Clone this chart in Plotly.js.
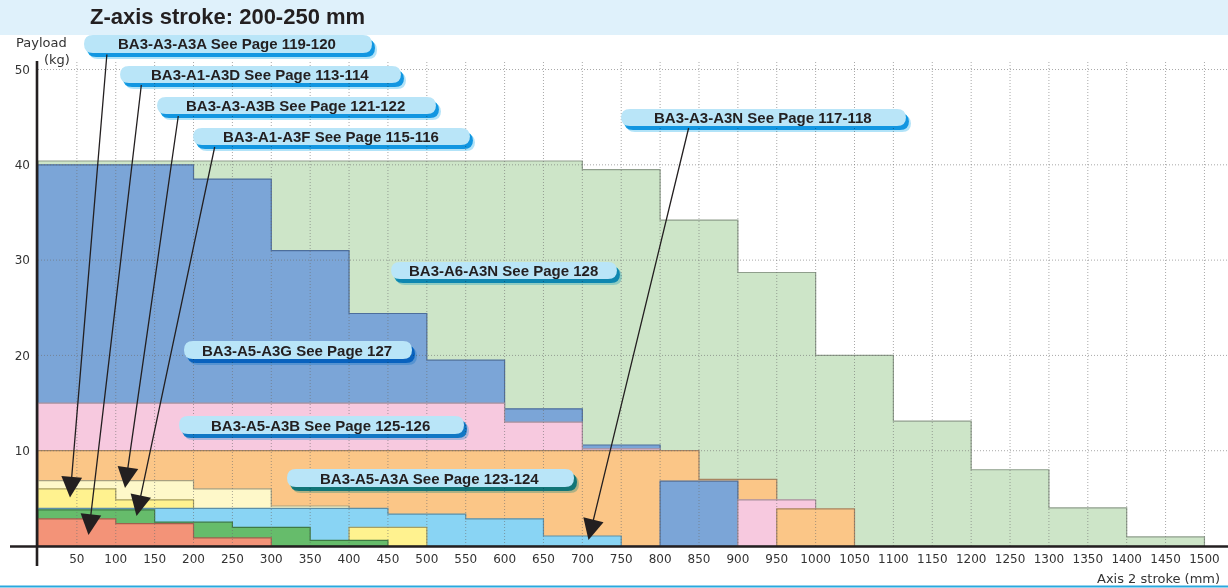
<!DOCTYPE html>
<html><head><meta charset="utf-8">
<script src="https://cdn.plot.ly/plotly-3.0.1.min.js"></script>
<style>html,body{margin:0;padding:0;background:#fff}#chart{width:1228px;height:588px}</style>
</head><body><div id="chart"></div>
<script>
// ---------------- data ----------------
const xTickVals = [50,100,150,200,250,300,350,400,450,500,550,600,650,700,750,800,850,900,950,1000,1050,1100,1150,1200,1250,1300,1350,1400,1450,1500];
const xTickText = ['50','100','150','200','250','300','350','400','450','500','550','600','650','700','750','800','850','900','950','1000','1050','1100','1150','1200','1250','1300','1350','1400','1450','1500'];
const yTickVals = [10,20,30,40,50];
const yTickText = ['10','20','30','40','50'];

// step envelopes: stroke boundaries (mm) and payload level (kg) between them
const a6a3nStroke  = [0,700,800,900,1000,1100,1200,1300,1400,1500];
const a6a3nPayload = [40.4,39.5,34.2,28.7,20.0,13.1,8.0,4.0,0.95];
const a5a3gStroke  = [0,200,300,400,500,600,700,800];
const a5a3gPayload = [40.0,38.5,31.0,24.4,19.5,14.4,10.6];
const a5a3gStroke2  = [800,900];
const a5a3gPayload2 = [6.8];
const a5a3bStroke  = [0,600,700,800];
const a5a3bPayload = [15.0,13.0,10.2];
const a5a3bStroke2  = [900,1000];
const a5a3bPayload2 = [4.85];
const a5a3aStroke  = [0,850,950];
const a5a3aPayload = [10.0,7.0];
const a5a3aStroke2  = [950,1050];
const a5a3aPayload2 = [3.9];
const a3a3bStroke  = [0,200,300,400];
const a3a3bPayload = [6.85,6.0,4.2];
const a3a3aStroke  = [0,100,200];
const a3a3aPayload = [6.0,4.85];
const a3a3aStroke2  = [400,500];
const a3a3aPayload2 = [1.95];
const a3a3nStroke  = [0,450,550,650,750];
const a3a3nPayload = [3.95,3.35,2.85,1.05];
const a1a3fStroke  = [0,150,250,350,450];
const a1a3fPayload = [3.8,2.5,1.95,0.6];
const a1a3dStroke  = [0,100,200,300];
const a1a3dPayload = [2.85,2.35,0.85];

const seriesLabels = [
  'BA3-A3-A3A See Page 119-120',
  'BA3-A1-A3D See Page 113-114',
  'BA3-A3-A3B See Page 121-122',
  'BA3-A1-A3F See Page 115-116',
  'BA3-A3-A3N See Page 117-118',
  'BA3-A6-A3N See Page 128',
  'BA3-A5-A3G See Page 127',
  'BA3-A5-A3B See Page 125-126',
  'BA3-A5-A3A See Page 123-124'
];
const chartTitle = 'Z-axis stroke: 200-250 mm';
const yTitle1 = 'Payload', yTitle2 = '(kg)';
const xTitle = 'Axis 2 stroke (mm)';

// ---------------- layout geometry ----------------
const W=1228, H=588, ML=38, MR=8, MT=60, MB=42;
const PW=W-ML-MR, PH=H-MT-MB;
const XMAX=1520, YMAX=51;
const pxX = px => (px-ML)/PW;          // pixel -> paper x
const pxY = py => (H-MB-py)/PH;        // pixel -> paper y
const dX = px => (px-ML)/PW*XMAX;      // pixel -> data x
const dY = py => (H-MB-py)/PH*YMAX;    // pixel -> data y

function stepPolygon(stroke, payload){
  const xs=[stroke[0]], ys=[0];
  for(let i=0;i<payload.length;i++){ xs.push(stroke[i], stroke[i+1]); ys.push(payload[i], payload[i]); }
  xs.push(stroke[stroke.length-1]); ys.push(0);
  xs.push(stroke[0]); ys.push(0);
  return {xs, ys};
}
function area(stroke, payload, fill, edge){
  const p = stepPolygon(stroke, payload);
  return {x:p.xs, y:p.ys, type:'scatter', mode:'lines', fill:'toself', fillcolor:fill,
          line:{color:edge, width:1.2}, hoverinfo:'skip', showlegend:false};
}
const C = {
  green:'#cde5c8', blue:'#7ba5d7', pink:'#f7c9df', orange:'#fbc687',
  lyellow:'#fef8c9', yellow:'#fff28f', cyan:'#89d4f4', dgreen:'#66bc6b', red:'#f39378'
};
const traces = [
  area(a6a3nStroke, a6a3nPayload, C.green, '#8f9e8c'),
  area(a5a3gStroke, a5a3gPayload, C.blue, '#4d6e9c'),
  area(a5a3bStroke, a5a3bPayload, C.pink, '#a8909c'),
  area(a5a3aStroke, a5a3aPayload, C.orange, '#a88460'),
  area(a5a3gStroke2, a5a3gPayload2, C.blue, '#4d6e9c'),
  area(a5a3bStroke2, a5a3bPayload2, C.pink, '#a8909c'),
  area(a5a3aStroke2, a5a3aPayload2, C.orange, '#a88460'),
  area(a3a3bStroke, a3a3bPayload, C.lyellow, '#a8a080'),
  area(a3a3aStroke, a3a3aPayload, C.yellow, '#a89f60'),
  area(a3a3nStroke, a3a3nPayload, C.cyan, '#5c8fa8'),
  area(a3a3aStroke2, a3a3aPayload2, C.yellow, '#a89f60'),
  area(a1a3fStroke, a1a3fPayload, C.dgreen, '#3f7a44'),
  area(a1a3dStroke, a1a3dPayload, C.red, '#a0604e')
];

// ---------------- callout boxes (pixel layout) ----------------
const boxes = [
  {x0:84,  x1:372, y0:35,  y1:53,  tip:[70,497.5], tail:[107,53]},
  {x0:120, x1:401, y0:66,  y1:83,  tip:[88.5,535], tail:[141.5,83.5]},
  {x0:157, x1:436, y0:97,  y1:114, tip:[125,488],  tail:[178.5,114.5]},
  {x0:193, x1:470, y0:128, y1:145, tip:[136.5,516],tail:[215,145.5]},
  {x0:621, x1:906, y0:109, y1:126, tip:[588.5,540],tail:[689,126.5]},
  {x0:391, x1:617, y0:262, y1:279},
  {x0:184, x1:412, y0:341, y1:359},
  {x0:179, x1:464, y0:416, y1:434},
  {x0:287, x1:574, y0:469, y1:487}
];
function roundRect(x0,y0,x1,y1,r){
  const X=pxX, Y=pxY;
  return `M ${X(x0+r)},${Y(y0)} L ${X(x1-r)},${Y(y0)} Q ${X(x1)},${Y(y0)} ${X(x1)},${Y(y0+r)} `+
         `L ${X(x1)},${Y(y1-r)} Q ${X(x1)},${Y(y1)} ${X(x1-r)},${Y(y1)} L ${X(x0+r)},${Y(y1)} `+
         `Q ${X(x0)},${Y(y1)} ${X(x0)},${Y(y1-r)} L ${X(x0)},${Y(y0+r)} Q ${X(x0)},${Y(y0)} ${X(x0+r)},${Y(y0)} Z`;
}

const shapes = [];
// title band
shapes.push({type:'rect', xref:'paper', yref:'paper', x0:pxX(0), x1:pxX(W), y0:pxY(35), y1:pxY(0),
  fillcolor:'#dff1fb', line:{width:0}, layer:'below'});
// bottom rule
shapes.push({type:'line', xref:'paper', yref:'paper', x0:pxX(0), x1:pxX(W), y0:pxY(586.5), y1:pxY(586.5),
  line:{color:'#2aa8de', width:2}, layer:'above'});
// grid (fine dotted, drawn over areas)
const gridLine = {color:'rgba(110,110,110,0.6)', width:1, dash:'1px,2px'};
xTickVals.forEach(v => shapes.push({type:'line', xref:'x', yref:'y', x0:v, x1:v, y0:0, y1:dY(62), line:gridLine, layer:'above'}));
yTickVals.forEach(v => shapes.push({type:'line', xref:'paper', yref:'y', x0:0, x1:pxX(W), y0:v, y1:v, line:gridLine, layer:'above'}));
// axis lines
shapes.push({type:'line', xref:'paper', yref:'paper', x0:pxX(10), x1:pxX(W), y0:pxY(546.5), y1:pxY(546.5),
  line:{color:'#231f20', width:2.6}, layer:'above'});
shapes.push({type:'line', xref:'paper', yref:'paper', x0:pxX(37), x1:pxX(37), y0:pxY(566), y1:pxY(61),
  line:{color:'#231f20', width:2.6}, layer:'above'});
// callout boxes with shadow
const SHADOW = 'rgb(0, 160, 230)';
boxes.forEach(b => {
  shapes.push({type:'path', xref:'paper', yref:'paper', path:roundRect(b.x0+5,b.y0+6,b.x1+5,b.y1+6,9),
    fillcolor:SHADOW, opacity:0.3, line:{width:0}, layer:'above'});
  shapes.push({type:'path', xref:'paper', yref:'paper', path:roundRect(b.x0+3,b.y0+4,b.x1+3,b.y1+4,9),
    fillcolor:SHADOW, opacity:0.9, line:{width:0}, layer:'above'});
  shapes.push({type:'path', xref:'paper', yref:'paper', path:roundRect(b.x0,b.y0,b.x1,b.y1,9),
    fillcolor:'#b9e5f8', line:{width:0}, layer:'above'});
});

const annotations = [];
annotations.push({xref:'paper', yref:'paper', x:pxX(88), y:pxY(17), xanchor:'left', yanchor:'middle',
  text:'<b>'+chartTitle+'</b>', showarrow:false,
  font:{family:'Liberation Sans, Arial, sans-serif', size:22, color:'#231f20'}});
annotations.push({xref:'paper', yref:'paper', x:pxX(68), y:pxY(50.5), xanchor:'right', yanchor:'bottom', borderpad:0,
  text:yTitle1, showarrow:false, font:{family:'DejaVu Sans, sans-serif', size:13, color:'#333'}});
annotations.push({xref:'paper', yref:'paper', x:pxX(71), y:pxY(50.5), xanchor:'right', yanchor:'top', borderpad:0,
  text:yTitle2, showarrow:false, font:{family:'DejaVu Sans, sans-serif', size:13, color:'#333'}});
annotations.push({xref:'paper', yref:'paper', x:pxX(1222), y:pxY(578), xanchor:'right', yanchor:'middle',
  text:xTitle, showarrow:false, font:{family:'DejaVu Sans, sans-serif', size:13, color:'#333'}});
boxes.forEach((b,i) => {
  annotations.push({xref:'paper', yref:'paper', x:pxX((b.x0+b.x1)/2 - 1), y:pxY((b.y0+b.y1)/2), xanchor:'center', yanchor:'middle',
    text:'<b>'+seriesLabels[i]+'</b>', showarrow:false,
    font:{family:'Liberation Sans, Arial, sans-serif', size:15, color:'#231f20'}});
  if(b.tip){
    annotations.push({xref:'x', yref:'y', x:dX(b.tip[0]), y:dY(b.tip[1]), axref:'pixel', ayref:'pixel',
      ax:b.tail[0]-b.tip[0], ay:b.tail[1]-b.tip[1], text:'', showarrow:true,
      arrowhead:2, arrowsize:3.2, arrowwidth:1.3, arrowcolor:'#231f20', standoff:0, startstandoff:0});
  }
});

const tickFont = {family:'DejaVu Sans, sans-serif', size:12, color:'#333'};
const layout = {
  width:W, height:H, margin:{l:ML, r:MR, t:MT, b:MB, pad:0},
  paper_bgcolor:'#fff', plot_bgcolor:'#fff', showlegend:false,
  xaxis:{range:[0,XMAX], tickmode:'array', tickvals:xTickVals, ticktext:xTickText, showgrid:false, zeroline:false,
         showline:false, ticks:'', tickfont:tickFont, ticklabelstandoff:4, fixedrange:true},
  yaxis:{range:[0,YMAX], tickmode:'array', tickvals:yTickVals, ticktext:yTickText, showgrid:false, zeroline:false,
         showline:false, ticks:'', tickfont:tickFont, ticklabelstandoff:7, fixedrange:true},
  shapes, annotations
};
Plotly.newPlot('chart', traces, layout, {displayModeBar:false, staticPlot:true}).then(() => {
  document.querySelectorAll('.shapelayer path').forEach(p => {
    const f = (p.style.fill||'').replace(/\s/g,'');
    if(f === 'rgb(0,160,230)') p.style.mixBlendMode = 'multiply';
  });
});
</script>
</body></html>
